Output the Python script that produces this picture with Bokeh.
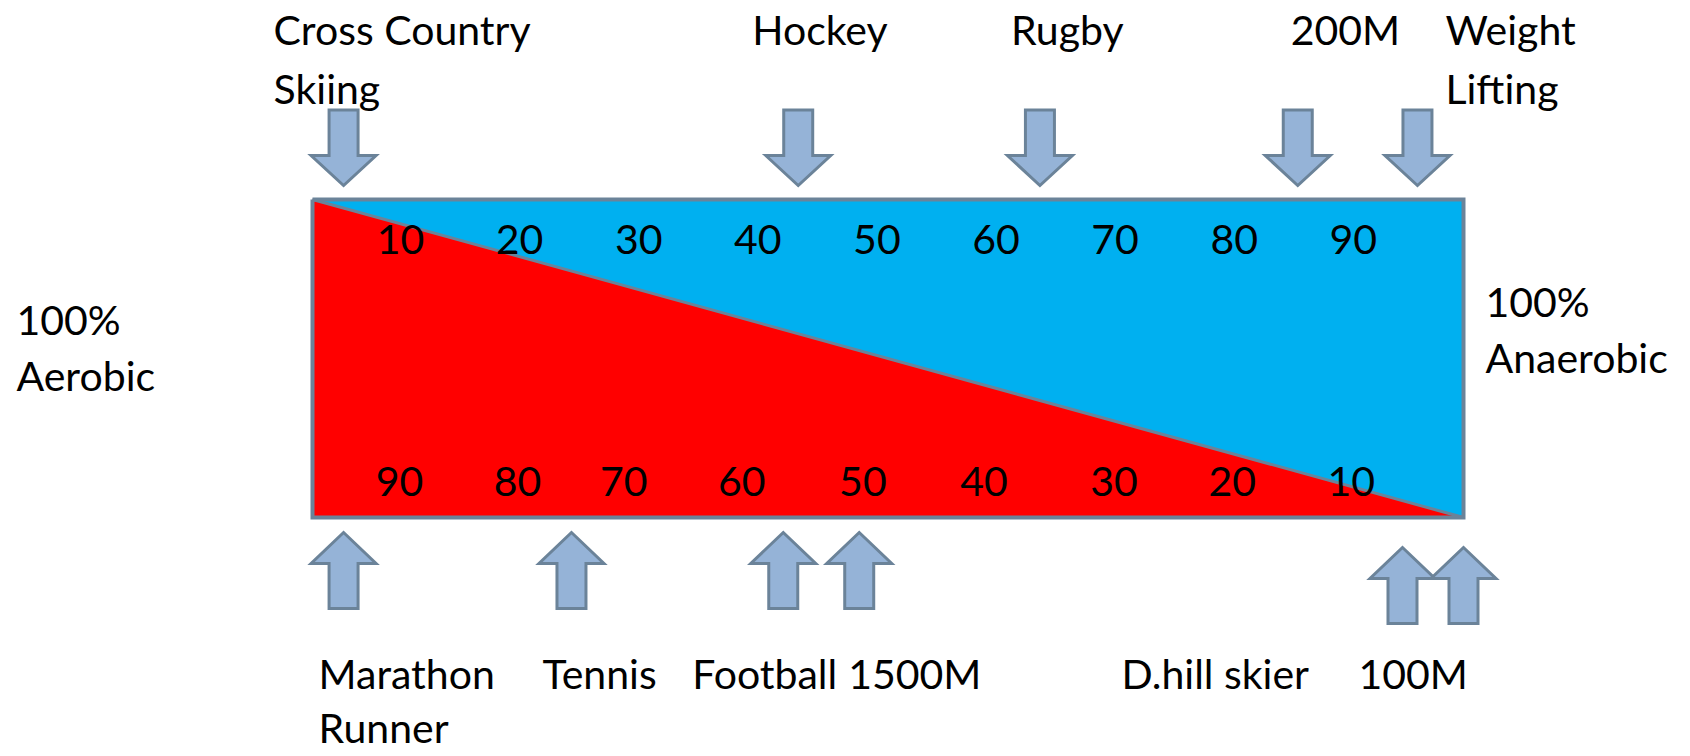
from bokeh.plotting import figure
from bokeh.models import Range1d, ColumnDataSource
from bokeh.core.properties import value
from bokeh.embed import file_html
from bokeh.resources import INLINE

# ---------------- data ----------------
anaerobic_scale = [10, 20, 30, 40, 50, 60, 70, 80, 90]   # labels along the top
aerobic_scale = [90, 80, 70, 60, 50, 40, 30, 20, 10]     # labels along the bottom

top_sports = ["Cross Country\nSkiing", "Hockey", "Rugby", "200M", "Weight\nLifting"]
top_pct_anaerobic = [2.7, 42.2, 63.2, 85.6, 96.0]

bottom_sports = ["Marathon\nRunner", "Tennis", "Football", "1500M", "D.hill skier", "100M"]
bottom_pct_anaerobic = [2.7, 22.5, 40.9, 47.5, 94.7, 100.0]

left_end_label = ["100%", "Aerobic"]
right_end_label = ["100%", "Anaerobic"]

# ---------------- layout ----------------
W, H = 1690, 756
BOX_L, BOX_R = 312.0, 1463.0     # pixel edges of the 0..100 % box
BOX_T, BOX_B = 199.0, 517.0
PPX = (BOX_R - BOX_L) / 100.0    # pixels per percent
TY = -16                         # vertical text correction


def xpct(px):
    return (px - BOX_L) / PPX


def dpct(px):
    return px / PPX


FONT = value("Lato")
FS = "41px"
LINE = 59  # line spacing for two-line labels

OUTLINE = "#6B8399"
ARROW_FILL = "#95B3D7"
BLUE = "#00B0F0"
RED = "#FF0000"

p = figure(width=W, height=H,
           x_range=Range1d(xpct(0), xpct(W)), y_range=Range1d(H, 0),
           output_backend="svg", toolbar_location=None,
           x_axis_location=None, y_axis_location=None, min_border=0)
p.grid.visible = False
p.outline_line_color = None
p.background_fill_color = "white"
p.border_fill_color = "white"

# ---- the box: red (aerobic) and blue (anaerobic) triangles ----
p.patch([0, 100, 100], [BOX_T, BOX_T, BOX_B], fill_color=BLUE, line_color=None)
p.patch([0, 0, 100], [BOX_T, BOX_B, BOX_B], fill_color=RED, line_color=None)
p.line([0, 100], [BOX_T, BOX_B], line_color=OUTLINE, line_width=3)
p.line([0, 100, 100, 0, 0], [BOX_T, BOX_T, BOX_B, BOX_B, BOX_T],
       line_color=OUTLINE, line_width=4, line_join="miter")

# ---- scale numbers inside the box ----
top_num_x = [xpct(400 + i * 119.1) for i in range(len(anaerobic_scale))]
bottom_nudge_px = [-1, -2, -15, -16, -14, -12, -1, -2, -2]
bottom_num_x = [xpct(400 + i * 119.1 + n) for i, n in enumerate(bottom_nudge_px)]
p.text(x=top_num_x, y=[255 + TY] * len(anaerobic_scale), text=[str(v) for v in anaerobic_scale],
       text_font=FONT, text_font_size=FS, text_align="center",
       text_baseline="alphabetic", text_color="black")
p.text(x=bottom_num_x, y=[497 + TY] * len(aerobic_scale), text=[str(v) for v in aerobic_scale],
       text_font=FONT, text_font_size=FS, text_align="center",
       text_baseline="alphabetic", text_color="black")

# ---- arrows ----
SHAFT = dpct(14.5)
HEAD = dpct(32.5)


def down_arrow(cx, top, base, tip):
    xs = [cx - SHAFT, cx + SHAFT, cx + SHAFT, cx + HEAD, cx, cx - HEAD, cx - SHAFT]
    ys = [top, top, base, base, tip, base, base]
    return xs, ys


def up_arrow(cx, tip, base, bottom):
    xs = [cx, cx + HEAD, cx + SHAFT, cx + SHAFT, cx - SHAFT, cx - SHAFT, cx - HEAD]
    ys = [tip, base, base, bottom, bottom, base, base]
    return xs, ys


axs, ays = [], []
for v in top_pct_anaerobic:
    xs, ys = down_arrow(v, 109.5, 155, 185)
    axs.append(xs); ays.append(ys)
bottom_drop_px = [0, 0, 0, 0, 15, 15]
for v, d in zip(bottom_pct_anaerobic, bottom_drop_px):
    xs, ys = up_arrow(v, 532 + d, 563 + d, 608 + d)
    axs.append(xs); ays.append(ys)
p.patches(axs, ays, fill_color=ARROW_FILL, line_color=OUTLINE, line_width=3,
          line_join="miter")

# ---- sport labels ----
top_label_offset_px = [-70, -46, -29, -7, 28]
tx, ty, tt = [], [], []
for name, v, off in zip(top_sports, top_pct_anaerobic, top_label_offset_px):
    for k, line in enumerate(name.split("\n")):
        tx.append(v + dpct(off)); ty.append(45 + TY + k * LINE); tt.append(line)

bottom_label_offset_px = [-25, -29, -91, -11, -281, -105]
for name, v, off in zip(bottom_sports, bottom_pct_anaerobic, bottom_label_offset_px):
    for k, line in enumerate(name.split("\n")):
        tx.append(v + dpct(off)); ty.append(689 + TY + k * 54); tt.append(line)

# end labels
for k, line in enumerate(left_end_label):
    tx.append(xpct(16)); ty.append(335 + TY + k * 56); tt.append(line)
for k, line in enumerate(right_end_label):
    tx.append(xpct(1485)); ty.append(317 + TY + k * 56); tt.append(line)

src = ColumnDataSource(dict(x=tx, y=ty, text=tt))
p.text(x="x", y="y", text="text", source=src, text_font=FONT, text_font_size=FS,
       text_align="left", text_baseline="alphabetic", text_color="black")

html = file_html(p, INLINE)
html = html.replace("<body>", '<body style="margin:0;padding:0;">')
open("out.html", "w").write(html)
